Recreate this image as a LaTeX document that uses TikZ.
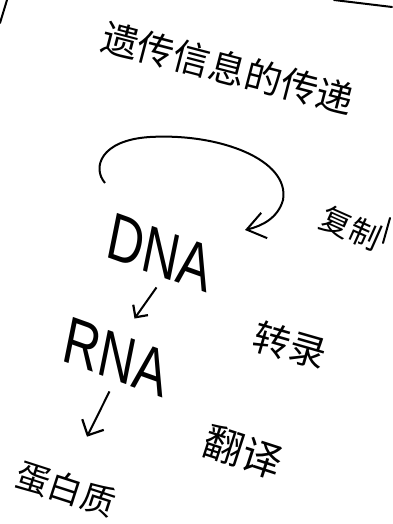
\documentclass[tikz,border=0pt]{standalone}
\usepackage{fontspec}
\setmainfont{Liberation Sans}
\newfontfamily\cjk{Noto Sans CJK SC}
\usetikzlibrary{arrows.meta}

\begin{document}
\begin{tikzpicture}[
  x=1pt,y=-1pt,
  hanzi/.style={font=\cjk\fontsize{#1}{#1}\selectfont,inner sep=0pt},
  molecule/.style={font=\fontsize{67}{67}\selectfont,inner sep=0pt,xscale=0.75},
  loop/.style={-{Straight Barb[length=18pt,width=26pt,line width=2pt]},line width=2pt},
  arr/.style={-{Straight Barb[length=#1,width=2*#1,line width=2.2pt]},line width=2pt},
  frame/.style={line width=2pt,line cap=round},
]
  \useasboundingbox (0,0) rectangle (392,524);

  % Sheet edges
  \draw[frame] (0,23) -- (7,0);
  \draw[frame] (334,0) -- (392,7);
  \draw[frame] (390,218) -- (383,243);

  % Title
  \node[hanzi=37,rotate=-14.6] (title) at (228,68) {遗传信息的传递};

  % Molecules
  \node[molecule,rotate=-15] (dna) at (160,253) {DNA};
  \node[molecule,rotate=-15] (rna) at (116,357) {RNA};
  \node[hanzi=34,rotate=-18] (protein) at (66,489) {蛋白质};

  % Process labels
  \node[hanzi=31,rotate=-24] (replication) at (351,228) {复制};
  \node[hanzi=37,rotate=-16] (transcription) at (290,345) {转录};
  \node[hanzi=40,rotate=-18] (translation) at (243,452) {翻译};

  % Arrows
  \coordinate (loopstart) at (105,183);
  \coordinate (looptip) at (245,230);
  \draw[loop] (loopstart) .. controls (92,168) and (100,140) .. (150,137)
    .. controls (220,133) and (290,160) .. (283,200)
    .. controls (278,218) and (262,226) .. (looptip);
  \draw[arr=9pt] ([xshift=1pt,yshift=-12pt]dna.south) -- ([xshift=14pt,yshift=16pt]rna.north);
  \draw[arr=12pt] ([xshift=-2pt,yshift=-12pt]rna.south) -- ([xshift=16pt,yshift=37pt]protein.north);
\end{tikzpicture}
\end{document}
